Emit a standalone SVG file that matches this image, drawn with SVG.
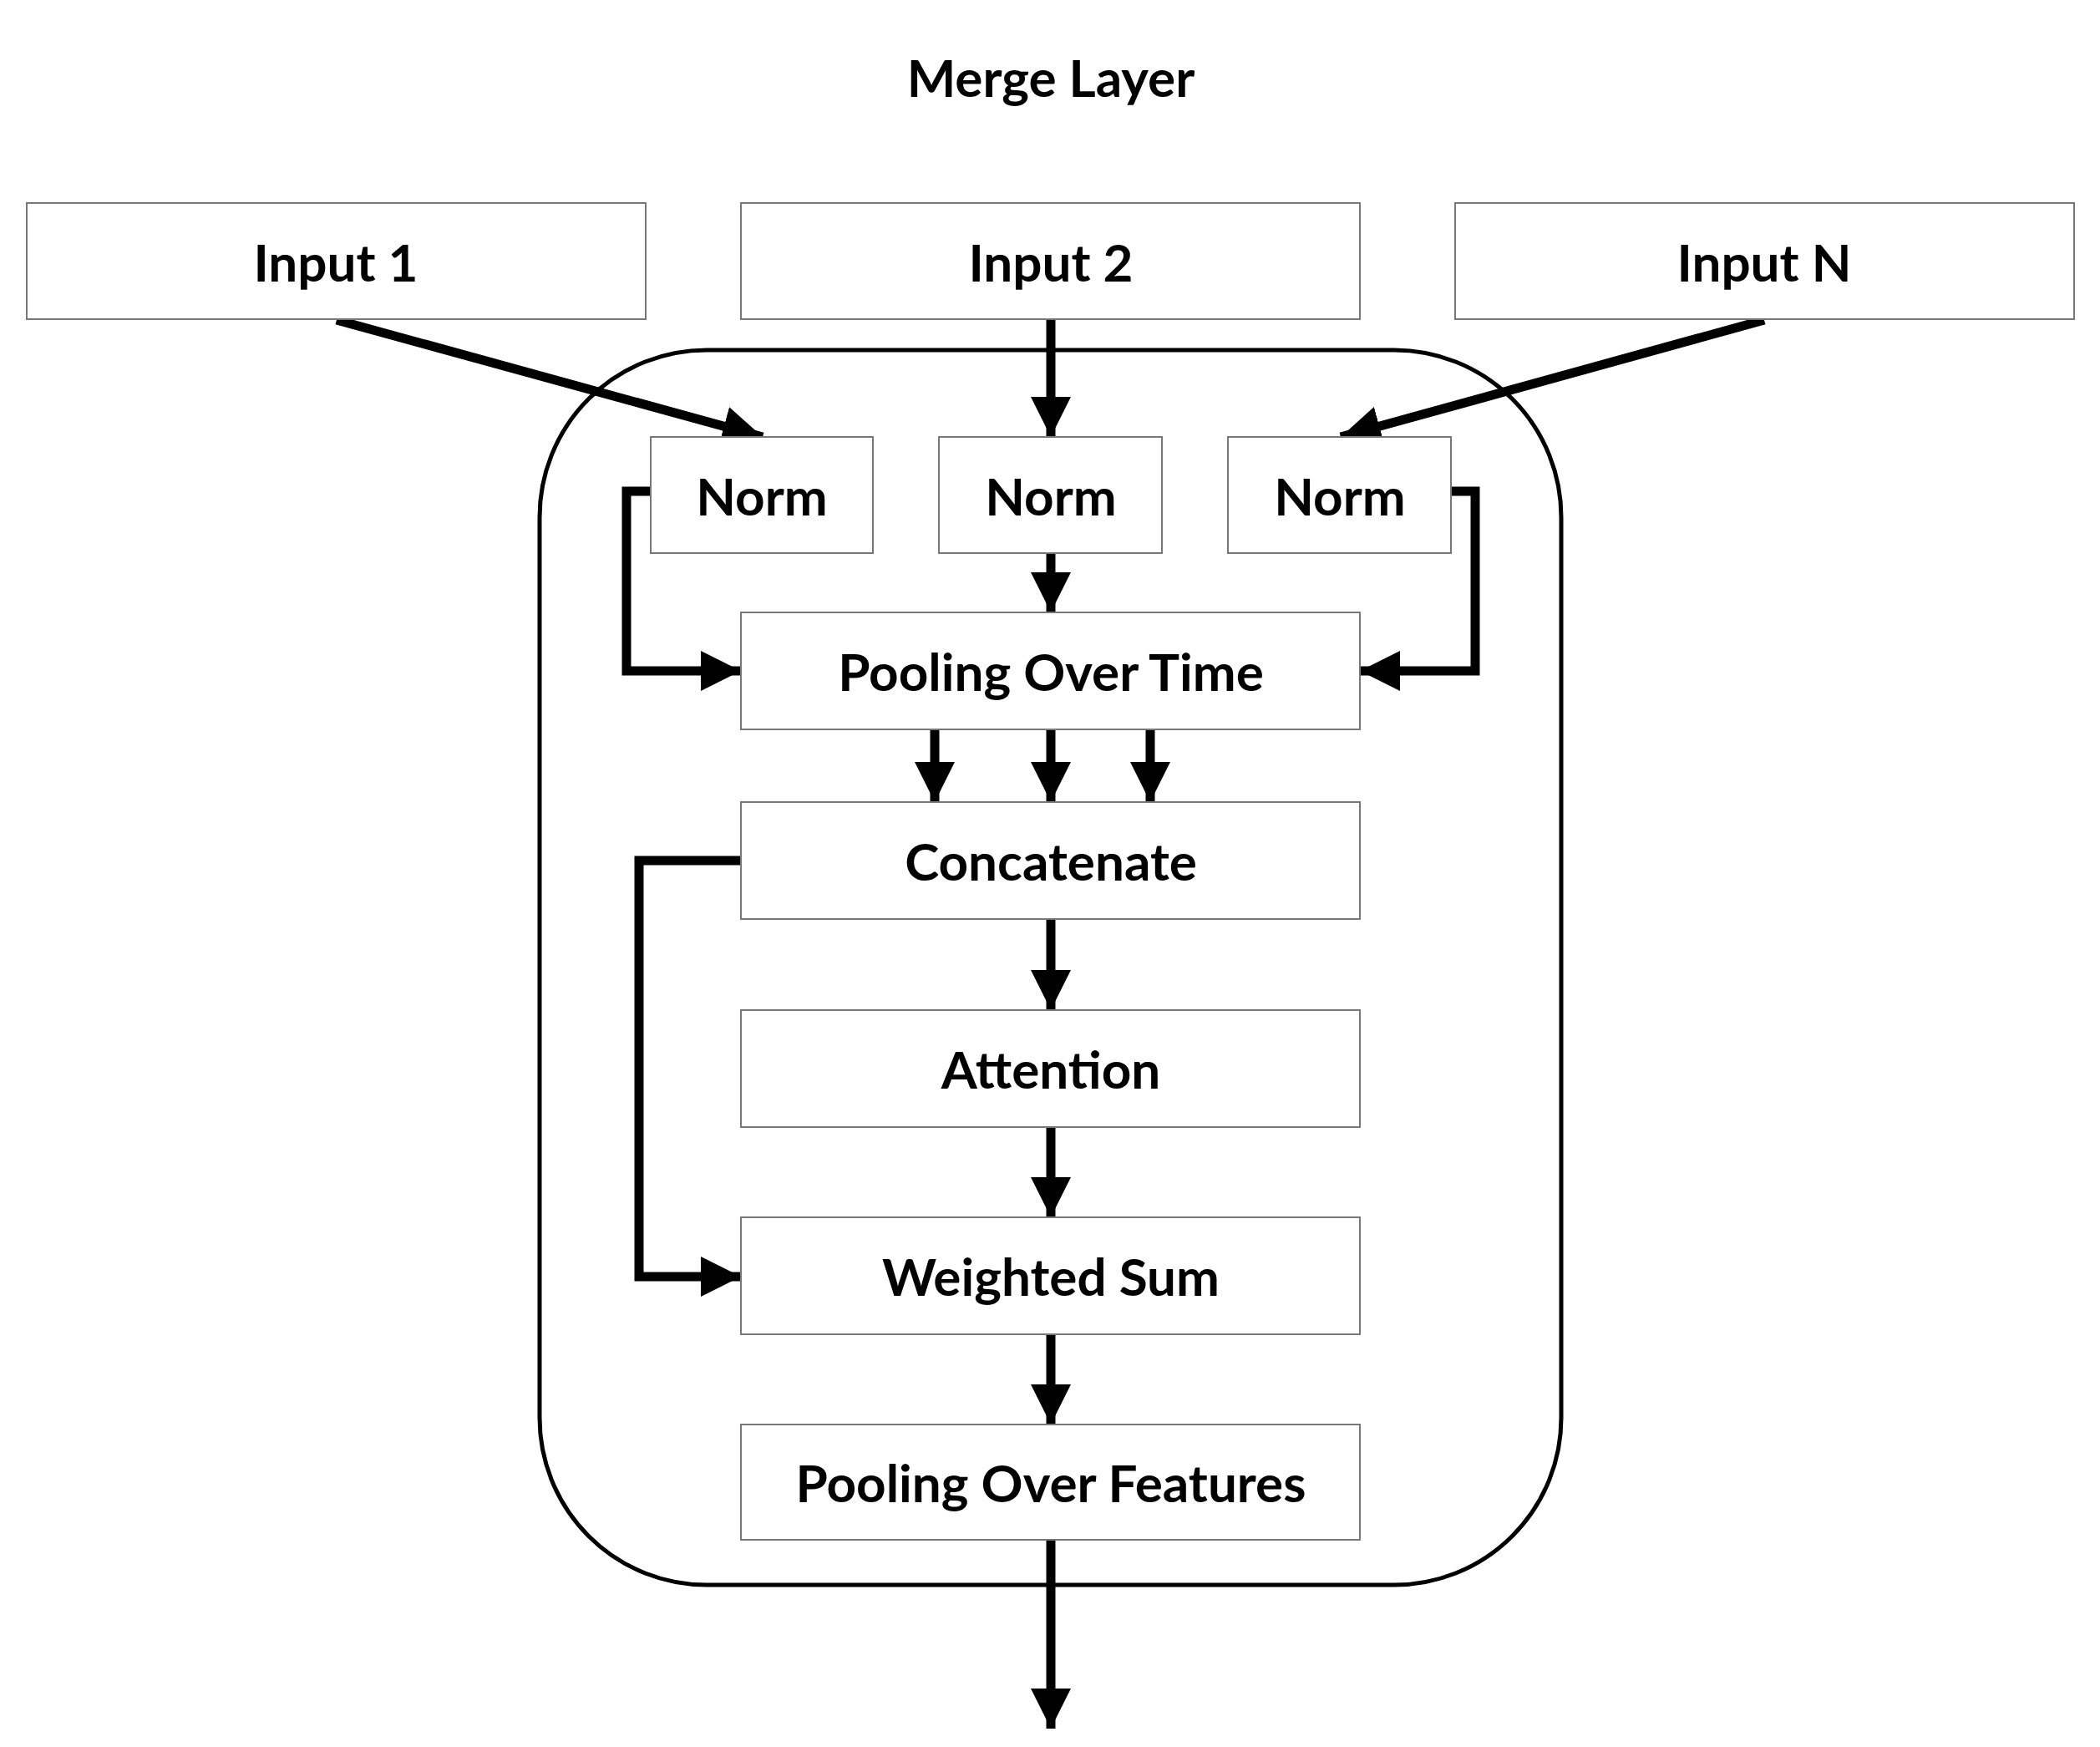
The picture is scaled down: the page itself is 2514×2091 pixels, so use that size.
<svg xmlns="http://www.w3.org/2000/svg" width="2514" height="2091" viewBox="0 0 2514 2091">
<style>
.b{fill:#fff;stroke:#777;stroke-width:2}
.t{font-family:Lato,"Open Sans",sans-serif;font-weight:bold;font-size:62px;text-anchor:middle;dominant-baseline:central;fill:#000}
.c{fill:none;stroke:#000;stroke-width:11}
</style>
<defs><marker id="a" markerUnits="userSpaceOnUse" markerWidth="50" markerHeight="50" refX="48" refY="24" orient="auto" viewBox="0 0 50 50"><path d="M0,0 L48,24 L0,48 Z" fill="#000"/></marker></defs>
<rect width="2514" height="2091" fill="#fff"/>
<text class="t" x="1258" y="92">Merge Layer</text>
<rect x="646" y="419" width="1223" height="1478" rx="200" fill="none" stroke="#000" stroke-width="5"/>
<g id="connectors">
<path class="c" d="M403,383 L913,523" marker-end="url(#a)"/>
<path class="c" d="M1258,383 L1258,523" marker-end="url(#a)"/>
<path class="c" d="M2112,383 L1605,523" marker-end="url(#a)"/>
<path class="c" d="M779,588 L750,588 L750,803 L887,803" marker-end="url(#a)"/>
<path class="c" d="M1737,588 L1766,588 L1766,803 L1628,803" marker-end="url(#a)"/>
<path class="c" d="M1258,662 L1258,733" marker-end="url(#a)"/>
<path class="c" d="M1119,873 L1119,960" marker-end="url(#a)"/>
<path class="c" d="M1258,873 L1258,960" marker-end="url(#a)"/>
<path class="c" d="M1377,873 L1377,960" marker-end="url(#a)"/>
<path class="c" d="M887,1030 L765,1030 L765,1528 L887,1528" marker-end="url(#a)"/>
<path class="c" d="M1258,1100 L1258,1209" marker-end="url(#a)"/>
<path class="c" d="M1258,1349 L1258,1457" marker-end="url(#a)"/>
<path class="c" d="M1258,1597 L1258,1705" marker-end="url(#a)"/>
<path class="c" d="M1258,1843 L1258,2069" marker-end="url(#a)"/>
</g>
<g id="in1"><rect class="b" x="32" y="243" width="741" height="139"/><text class="t" x="402" y="313">Input 1</text></g>
<g id="in2"><rect class="b" x="887" y="243" width="741" height="139"/><text class="t" x="1258" y="313">Input 2</text></g>
<g id="inN"><rect class="b" x="1742" y="243" width="741" height="139"/><text class="t" x="2112" y="313">Input N</text></g>
<g id="norm1"><rect class="b" x="779" y="523" width="266" height="139"/><text class="t" x="912" y="593">Norm</text></g>
<g id="norm2"><rect class="b" x="1124" y="523" width="267" height="139"/><text class="t" x="1258" y="593">Norm</text></g>
<g id="norm3"><rect class="b" x="1470" y="523" width="267" height="139"/><text class="t" x="1604" y="593">Norm</text></g>
<g id="pot"><rect class="b" x="887" y="733" width="741" height="140"/><text class="t" x="1258" y="803">Pooling Over Time</text></g>
<g id="concat"><rect class="b" x="887" y="960" width="741" height="140"/><text class="t" x="1258" y="1030">Concatenate</text></g>
<g id="attn"><rect class="b" x="887" y="1209" width="741" height="140"/><text class="t" x="1258" y="1279">Attention</text></g>
<g id="ws"><rect class="b" x="887" y="1457" width="741" height="140"/><text class="t" x="1258" y="1527">Weighted Sum</text></g>
<g id="pof"><rect class="b" x="887" y="1705" width="741" height="138"/><text class="t" x="1258" y="1774">Pooling Over Features</text></g>
</svg>
